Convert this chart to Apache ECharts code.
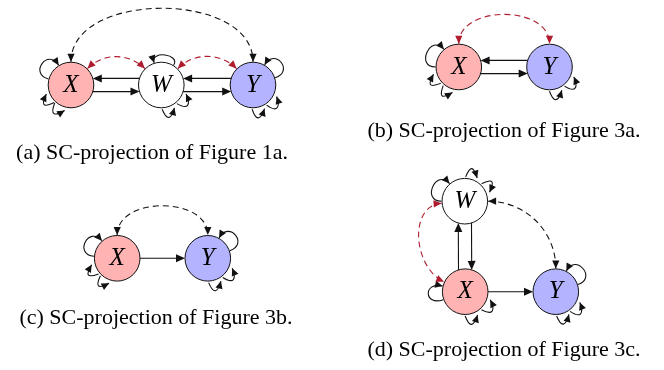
<!DOCTYPE html>
<html><head><meta charset="utf-8">
<script src="https://cdn.jsdelivr.net/npm/echarts@6/dist/echarts.min.js"></script>
<style>html,body{margin:0;padding:0;background:#fff}#c{width:664px;height:370px}</style>
</head><body><div id="c"></div>
<script>
// ---- data ----
const nodeIds    = ['aX','aW','aY','bX','bY','cX','cY','dW','dX','dY'];
const nodeLabels = ['X','W','Y','X','Y','X','Y','W','X','Y'];
const nodeKinds  = ['x','w','y','x','y','x','y','w','x','y'];
const nodePosX   = [71, 161.3, 253, 458.8, 549.5, 117.2, 207.8, 464.8, 465.2, 555.8];
const nodePosY   = [85, 85, 85, 67, 67, 258.3, 258.3, 201.2, 291.7, 291.7];

// directed solid edges: [from, to, side]  (side -1 = upper/left, +1 = lower/right)
const solidEdges = [
  ['aW','aX',-1],['aX','aW',1],['aY','aW',-1],['aW','aY',1],
  ['bY','bX',-1],['bX','bY',1],
  ['cX','cY',0],
  ['dX','dY',0],['dX','dW',-1],['dW','dX',1]
];
// bidirected dashed edges: [from, to, outAngle, inAngle, looseness, colour kind]
const dashedEdges = [
  ['aX','aY',90,90,1.0,'k'],['aX','aW',45,135,1.0,'r'],['aW','aY',45,135,1.0,'r'],
  ['bX','bY',90,90,1.1,'r'],
  ['cX','cY',90,90,1.1,'k'],
  ['dW','dX',185,155,1.1,'r'],['dW','dY',0,90,1.0,'k']
];
// self loops: [node, startAngle, endAngle, kind]
const selfLoops = [
  ['aX',165,122,'loop'],['aX',226,200,'stub'],['aX',228,256,'stub'],
  ['aW',58,108,'flat'],['aW',310,340,'stub'],['aW',272,300,'stub'],
  ['aY',18,60,'loop'],['aY',304,334,'stub'],['aY',268,296,'stub'],
  ['bX',180,130,'loop'],['bX',222,196,'stub'],['bX',230,256,'stub'],
  ['bY',308,338,'stub'],['bY',270,298,'stub'],
  ['cX',175,131,'loop'],['cX',220,194,'stub'],['cX',226,252,'stub'],
  ['cY',19,61,'loop'],['cY',308,338,'stub'],['cY',272,300,'stub'],
  ['dW',180,131,'loop'],['dW',88,62,'stub'],['dW',46,20,'stub'],
  ['dX',200,166,'loop'],['dX',312,342,'stub'],['dX',270,298,'stub'],
  ['dY',18,63,'loop'],['dY',306,336,'stub'],['dY',272,300,'stub']
];
const captions = ['(a) SC-projection of Figure 1a.','(b) SC-projection of Figure 3a.',
                  '(c) SC-projection of Figure 3b.','(d) SC-projection of Figure 3c.'];
const captionX = [152, 504, 156, 504];
const captionY = [153, 131, 318, 350];

// ---- style ----
const R = 22.8;
const FILL = {x:'#ffb3b3', w:'#ffffff', y:'#b3b3ff'};
const DASHCOL = {k:'#111111', r:'#b01c2e'};
const INK = '#111111';

function idx(id){ return nodeIds.indexOf(id); }
function ctr(api,id){ const k=idx(id); return api.coord([nodePosX[k], nodePosY[k]]); }
function pol(c,a,r){ const t=a*Math.PI/180; return [c[0]+r*Math.cos(t), c[1]-r*Math.sin(t)]; }
function head(tip, from, len, hw, color){
  let dx=tip[0]-from[0], dy=tip[1]-from[1]; const l=Math.hypot(dx,dy)||1; dx/=l; dy/=l;
  const bx=tip[0]-dx*len, by=tip[1]-dy*len;
  return {type:'polygon', shape:{points:[[tip[0],tip[1]],[bx-dy*hw,by+dx*hw],[bx+dy*hw,by-dx*hw]]},
          style:{fill:color}};
}
function curve(p0,c1,c2,p3,style){
  return {type:'bezierCurve', shape:{x1:p0[0],y1:p0[1],x2:p3[0],y2:p3[1],cpx1:c1[0],cpy1:c1[1],cpx2:c2[0],cpy2:c2[1]},
          style:Object.assign({fill:null},style)};
}

function renderSolid(params, api){
  const e = solidEdges[api.value(2)];
  const A = ctr(api,e[0]), B = ctr(api,e[1]);
  let ux=B[0]-A[0], uy=B[1]-A[1]; const l=Math.hypot(ux,uy); ux/=l; uy/=l;
  const n = Math.abs(ux)>Math.abs(uy) ? [0,1] : [1,0];
  const o = e[2]*6.6;
  const s = Math.sqrt(R*R-o*o);
  const p0=[A[0]+ux*s+n[0]*o, A[1]+uy*s+n[1]*o];
  const p1=[B[0]-ux*s+n[0]*o, B[1]-uy*s+n[1]*o];
  const len=9;
  return {type:'group', children:[
    {type:'line', shape:{x1:p0[0],y1:p0[1],x2:p1[0]-ux*len*0.7,y2:p1[1]-uy*len*0.7}, style:{stroke:INK,lineWidth:1.1}},
    head(p1,p0,len,4,INK)
  ]};
}
function renderDashed(params, api){
  const e = dashedEdges[api.value(2)];
  const A = ctr(api,e[0]), B = ctr(api,e[1]);
  const p0 = pol(A,e[2],R+0.5), p3 = pol(B,e[3],R+0.5);
  const d = 0.3915*e[4]*Math.hypot(p3[0]-p0[0],p3[1]-p0[1]);
  const c1 = pol(p0,e[2],d), c2 = pol(p3,e[3],d);
  const col = DASHCOL[e[5]];
  return {type:'group', children:[
    curve(p0,c1,c2,p3,{stroke:col,lineWidth:1.1,lineDash:[6,4]}),
    head(p0,c1,8,3.6,col), head(p3,c2,8,3.6,col)
  ]};
}
function renderLoop(params, api){
  const e = selfLoops[api.value(2)];
  const C = ctr(api,e[0]);
  let p0,p3,c1,c2;
  if (e[3]==='stub'){
    const sg = e[2]>e[1] ? 1 : -1;
    p0 = pol(C,e[1],R+1.5); p3 = pol(C,e[2],R+3.5);
    c1 = pol(p0,e[1]+sg*20,13);
    c2 = pol(p3,e[2]-sg*45,12);
  } else {
    const L = e[3]==='loop' ? 21 : 14;
    p0 = pol(C,e[1],R+0.5); p3 = pol(C,e[2],R+0.5);
    c1 = pol(C,e[1],R+L); c2 = pol(C,e[2],R+L);
  }
  return {type:'group', children:[
    curve(p0,c1,c2,p3,{stroke:INK,lineWidth:1.1}),
    head(p3,c2,7.5,3.6,INK)
  ]};
}
function rows(arr){ return arr.map((e,i)=>{ const k=idx(e[0]); return [nodePosX[k],nodePosY[k],i]; }); }

const chart = echarts.init(document.getElementById('c'), null, {renderer:'canvas'});
chart.setOption({
  animation:false,
  grid:{left:0,right:0,top:0,bottom:0},
  xAxis:{type:'value',min:0,max:664,show:false},
  yAxis:{type:'value',min:0,max:370,inverse:true,show:false},
  series:[
    {type:'custom', renderItem:renderLoop, data:rows(selfLoops), clip:false, silent:true, z:2},
    {type:'custom', renderItem:renderDashed, data:rows(dashedEdges), clip:false, silent:true, z:2},
    {type:'custom', renderItem:renderSolid, data:rows(solidEdges), clip:false, silent:true, z:2},
    {type:'scatter', z:5, silent:true, symbol:'circle', symbolSize:2*R,
     data: nodeIds.map((id,i)=>({value:[nodePosX[i],nodePosY[i]], name:nodeLabels[i],
        itemStyle:{color:FILL[nodeKinds[i]], borderColor:INK, borderWidth:1, opacity:1}})),
     label:{show:true, position:'inside', formatter:'{b}', color:'#000',
        fontFamily:'Liberation Serif', fontStyle:'italic', fontSize:25},
     emphasis:{disabled:true}}
  ],
  graphic: captions.map((t,i)=>({type:'text', x:captionX[i], y:captionY[i],
     style:{text:t, fill:'#000', font:'22px "Liberation Serif"', textAlign:'center', textVerticalAlign:'middle'}}))
});
</script></body></html>
